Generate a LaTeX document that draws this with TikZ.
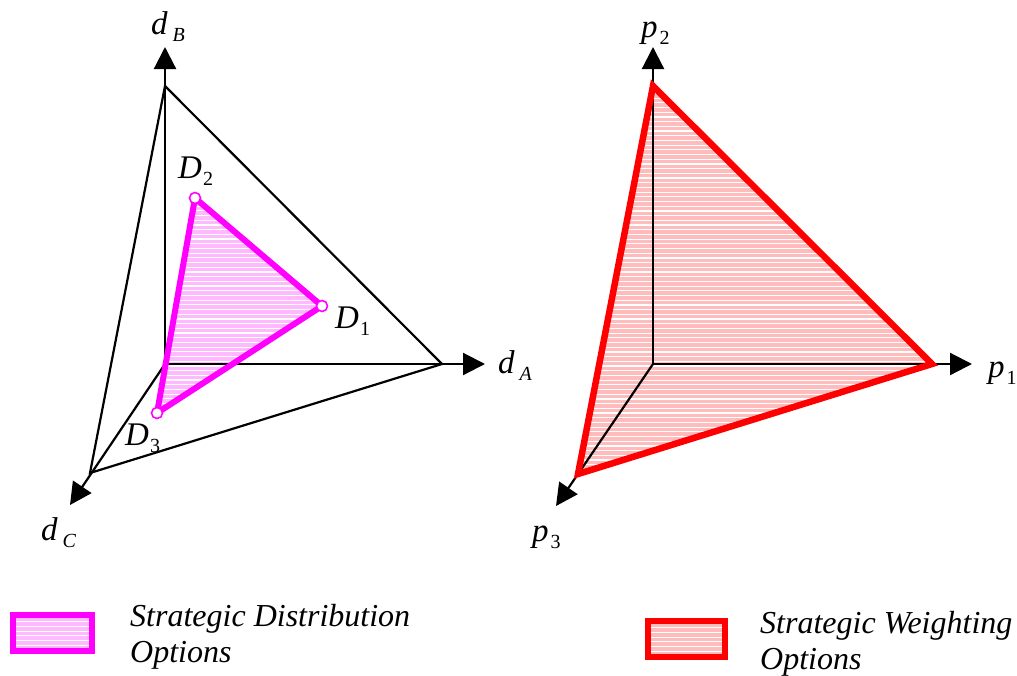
\documentclass[tikz,border=0pt]{standalone}
\usepackage{fontspec}
\setmainfont{Liberation Serif}
\usetikzlibrary{arrows.meta}
\definecolor{dfill}{RGB}{255,185,255}
\definecolor{pfill}{RGB}{255,188,188}
\definecolor{mag}{RGB}{255,0,255}
\definecolor{red}{RGB}{255,0,0}
\newcommand{\mylbl}[3]{\fontsize{33}{36}\selectfont\itshape #1\kern#3\raisebox{-7pt}{\fontsize{20}{22}\selectfont #2}}
\tikzset{
  axis/.style={line width=2.2pt, -{Triangle[length=22pt,width=22pt]}},
  edge/.style={line width=2.2pt},
  dtri/.style={line width=6pt, draw=mag, line join=round},
  ptri/.style={line width=6.5pt, draw=red, line join=miter},
  vdot/.style={circle, draw=mag, fill=white, line width=1.6pt, inner sep=0pt, minimum size=11pt},
  lbl/.style={inner sep=0pt, anchor=base west},
  legtext/.style={inner sep=0pt, anchor=base west, font=\fontsize{32}{36}\selectfont\itshape},
  stripe/.style={white, line width=1.2pt},
}
\begin{document}
\begin{tikzpicture}[x=1pt,y=-1pt]
\useasboundingbox (0,0) rectangle (1017,675);
% ---------- left diagram ----------
\coordinate (OL) at (165,364);
\coordinate (B) at (165,86);
\coordinate (A) at (442,364);
\coordinate (C) at (90,473);
\coordinate (tB) at (165,47);
\coordinate (tA) at (485,364);
\coordinate (tC) at (70,505);
\coordinate (D1) at (322,306);
\coordinate (D2) at (195,198);
\coordinate (D3) at (157,413);
% magenta hatched fill
\begin{scope}
  \clip (D1) -- (D2) -- (D3) -- cycle;
  \fill[dfill] (D1) -- (D2) -- (D3) -- cycle;
  \foreach \y in {192,196.7,...,420} \draw[stripe] (140,\y) -- (340,\y);
\end{scope}
\draw[edge] (B) -- (A) -- (C) -- cycle;
\draw[axis] (OL) -- (tB);
\draw[axis] (OL) -- (tA);
\draw[axis] (OL) -- (tC);
\draw[dtri] (D1) -- (D2) -- (D3) -- cycle;
\node[vdot] (n1) at (D1) {};
\node[vdot] (n2) at (D2) {};
\node[vdot] (n3) at (D3) {};
\node[lbl] (ldB) at (151,34) {\mylbl{d}{\itshape B}{5pt}};
\node[lbl] (ldA) at (498,373) {\mylbl{d}{\itshape A}{5pt}};
\node[lbl] (ldC) at (41,540) {\mylbl{d}{\itshape C}{5pt}};
\node[lbl] (lD2) at (178,178) {\mylbl{D}{\upshape 2}{1pt}};
\node[lbl] (lD1) at (335,328) {\mylbl{D}{\upshape 1}{1pt}};
\node[lbl] (lD3) at (125,445) {\mylbl{D}{\upshape 3}{1pt}};
% ---------- right diagram ----------
\coordinate (OR) at (653,364);
\coordinate (P2) at (653,86);
\coordinate (P1) at (932,364);
\coordinate (P3) at (578,474);
\coordinate (t2) at (653,47);
\coordinate (t1) at (972,364);
\coordinate (t3) at (556,506);
\begin{scope}
  \clip (P1) -- (P2) -- (P3) -- cycle;
  \fill[pfill] (P1) -- (P2) -- (P3) -- cycle;
  \foreach \y in {84,88.7,...,480} \draw[stripe] (570,\y) -- (940,\y);
\end{scope}
\draw[edge] (OR) -- (P3);
\draw[axis] (OR) -- (t2);
\draw[axis] (OR) -- (t1);
\draw[axis] (P3) -- (t3);
\draw[ptri] (P1) -- (P2) -- (P3) -- cycle;
\node[lbl] (lp2) at (641,37) {\mylbl{p}{\upshape 2}{2pt}};
\node[lbl] (lp1) at (988,377) {\mylbl{p}{\upshape 1}{2pt}};
\node[lbl] (lp3) at (532,541) {\mylbl{p}{\upshape 3}{2pt}};
% ---------- legend ----------
\begin{scope}
  \clip (13,615) rectangle (92,651);
  \fill[dfill] (13,615) rectangle (92,651);
  \foreach \y in {617,621.7,...,652} \draw[stripe] (10,\y) -- (95,\y);
\end{scope}
\draw[line width=6pt, mag] (13,615) rectangle (92,651);
\node[legtext] (lg1a) at (130,626) {Strategic Distribution};
\node[legtext] (lg1b) at (130,662) {Options};
\begin{scope}
  \clip (648,621) rectangle (725,657);
  \fill[pfill] (648,621) rectangle (725,657);
  \foreach \y in {623,627.7,...,658} \draw[stripe] (645,\y) -- (728,\y);
\end{scope}
\draw[line width=6pt, red] (648,621) rectangle (725,657);
\node[legtext] (lg2a) at (760,633) {Strategic Weighting};
\node[legtext] (lg2b) at (760,669) {Options};
\end{tikzpicture}
\end{document}
